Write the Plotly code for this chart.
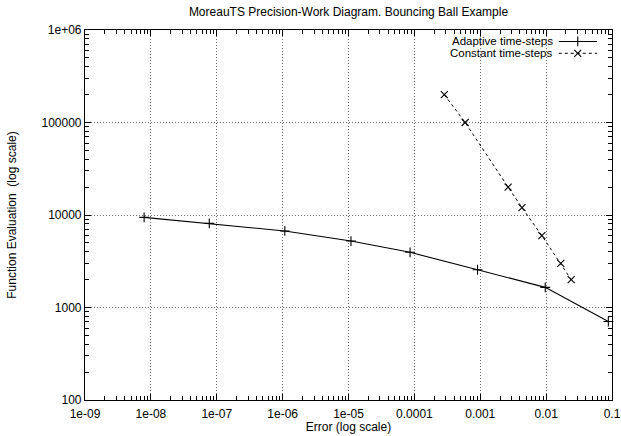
import plotly.graph_objects as go

# Precision-work data for the bouncing ball example
adaptive_error = [7.9e-9, 7.7e-8, 1.08e-6, 1.09e-5, 8.6e-5, 9.1e-4, 9.7e-3, 0.088]
adaptive_evals = [9420, 8110, 6720, 5230, 3950, 2560, 1650, 706]

constant_error = [2.85e-4, 5.9e-4, 2.65e-3, 4.3e-3, 8.6e-3, 0.0167, 0.024]
constant_evals = [200000, 100000, 20000, 12000, 6000, 3000, 2000]

x_tickvals = [1e-9, 1e-8, 1e-7, 1e-6, 1e-5, 1e-4, 1e-3, 1e-2, 1e-1]
x_ticktext = ["1e-09", "1e-08", "1e-07", "1e-06", "1e-05", "0.0001", "0.001", "0.01", "0.1"]
y_tickvals = [100, 1000, 10000, 100000, 1000000]
y_ticktext = ["100", "1000", "10000", "100000", "1e+06"]

series_names = ["Adaptive time-steps", "Constant time-steps"]

FONT = "Liberation Sans, Arial, Helvetica, sans-serif"
X_RANGE = [-9, -1]
Y_RANGE = [2, 6]


def minor_log_ticks(decades):
    """Minor tick positions 2..9 within each decade."""
    return [m * 10.0 ** d for d in decades for m in range(2, 10)]


MARK = 7

fig = go.Figure()

fig.add_trace(go.Scatter(
    x=adaptive_error, y=adaptive_evals, mode="lines+markers",
    line=dict(color="black", width=1.1),
    marker=dict(symbol="cross-thin", size=MARK, line=dict(color="black", width=1.1)),
    cliponaxis=False, showlegend=False))

fig.add_trace(go.Scatter(
    x=constant_error, y=constant_evals, mode="lines+markers",
    line=dict(color="black", width=1.0, dash="3px,3px"),
    marker=dict(symbol="x-thin", size=MARK, line=dict(color="black", width=1.1)),
    cliponaxis=False, showlegend=False))

# Key samples, drawn on a hidden unit overlay axis (gnuplot-style: sample right of the text)
key_x = [0.899, 0.935, 0.9715]
key_rows = [0.969, 0.937]
fig.add_trace(go.Scatter(
    x=key_x, y=[key_rows[0]] * 3, xaxis="x2", yaxis="y2", mode="lines",
    line=dict(color="black", width=1.1), showlegend=False, hoverinfo="skip"))
fig.add_trace(go.Scatter(
    x=[key_x[1]], y=[key_rows[0]], xaxis="x2", yaxis="y2", mode="markers",
    marker=dict(symbol="cross-thin", size=MARK, line=dict(color="black", width=1.1)),
    showlegend=False, hoverinfo="skip"))
fig.add_trace(go.Scatter(
    x=key_x, y=[key_rows[1]] * 3, xaxis="x2", yaxis="y2", mode="lines",
    line=dict(color="black", width=1.0, dash="3px,3px"), showlegend=False, hoverinfo="skip"))
fig.add_trace(go.Scatter(
    x=[key_x[1]], y=[key_rows[1]], xaxis="x2", yaxis="y2", mode="markers",
    marker=dict(symbol="x-thin", size=MARK, line=dict(color="black", width=1.1)),
    showlegend=False, hoverinfo="skip"))

for name, row in zip(series_names, key_rows):
    fig.add_annotation(x=key_x[0] - 0.008, y=row, xref="x2", yref="y2",
                       text=name, showarrow=False, xanchor="right", yanchor="middle",
                       font=dict(family=FONT, size=11.5, color="black"))

# Empty trace that carries the minor-tick overlay axes
fig.add_trace(go.Scatter(x=[], y=[], xaxis="x3", yaxis="y3", showlegend=False,
                         hoverinfo="skip"))

axis_common = dict(
    type="log", showline=True, linecolor="black", linewidth=1.2, mirror="allticks",
    ticks="inside", ticklen=6, tickcolor="black", tickwidth=1,
    showgrid=True, gridcolor="rgb(110,110,110)", griddash="1px,2px", gridwidth=1,
    zeroline=False, automargin=False,
    tickfont=dict(family=FONT, size=12, color="black"),
)

minor_common = dict(
    type="log", showline=False, mirror="allticks", ticks="inside", ticklen=4,
    tickcolor="black", tickwidth=1, showticklabels=False, showgrid=False,
    zeroline=False, automargin=False, tickmode="array",
)

fig.update_layout(
    width=621, height=436,
    margin=dict(l=85, r=9, t=30, b=36),
    paper_bgcolor="white", plot_bgcolor="white",
    font=dict(family=FONT, size=12, color="black"),
    title=dict(text="MoreauTS Precision-Work Diagram. Bouncing Ball Example",
               x=(85 + 612) / 2 / 621, xanchor="center", y=1 - 12 / 436, yanchor="middle",
               font=dict(family=FONT, size=12, color="black")),
    xaxis=dict(axis_common, range=X_RANGE, tickvals=x_tickvals, ticktext=x_ticktext,
               ticklabelstandoff=2,
               title=dict(text="Error (log scale)", standoff=3,
                          font=dict(family=FONT, size=12))),
    yaxis=dict(axis_common, range=Y_RANGE, tickvals=y_tickvals, ticktext=y_ticktext,
               title=dict(text="Function Evaluation  (log scale)", standoff=22,
                          font=dict(family=FONT, size=12))),
    xaxis2=dict(overlaying="x", range=[0, 1], visible=False, anchor="y2"),
    yaxis2=dict(overlaying="y", range=[0, 1], visible=False, anchor="x2"),
    xaxis3=dict(minor_common, overlaying="x", anchor="y3", range=X_RANGE,
                tickvals=minor_log_ticks(range(-9, -1))),
    yaxis3=dict(minor_common, overlaying="y", anchor="x3", range=Y_RANGE,
                tickvals=minor_log_ticks(range(2, 6))),
    showlegend=False,
)

fig.write_html("out.html")
